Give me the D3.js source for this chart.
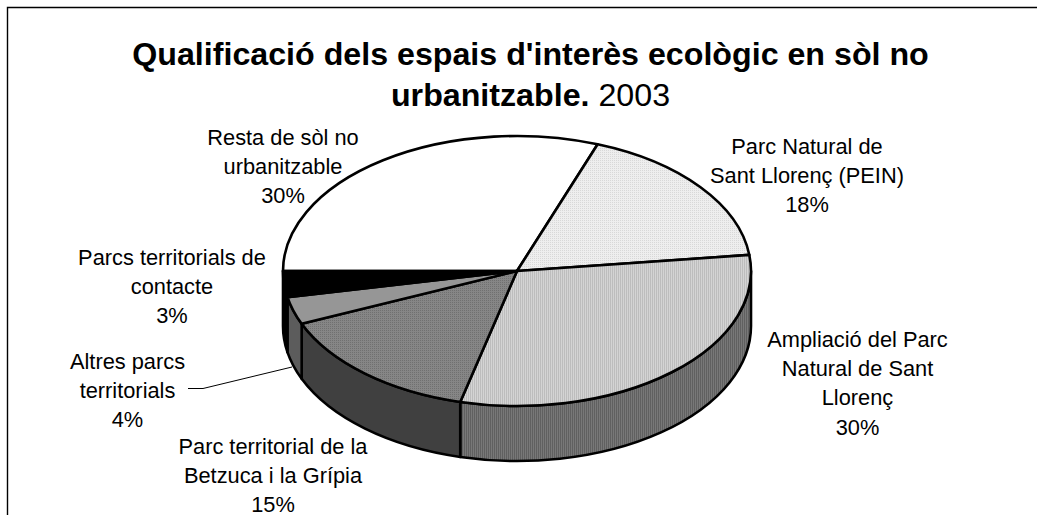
<!DOCTYPE html>
<html><head><meta charset="utf-8">
<script src="https://cdnjs.cloudflare.com/ajax/libs/d3/7.8.5/d3.min.js"></script>
<style>html,body{margin:0;padding:0;background:#fff}svg{display:block}text{font-family:"Liberation Sans",Arial,sans-serif;fill:#000}</style>
</head><body><svg id="c" width="1037" height="515"></svg>
<script>
const categories=["Resta de sòl no urbanitzable","Parc Natural de Sant Llorenç (PEIN)","Ampliació del Parc Natural de Sant Llorenç","Parc territorial de la Betzuca i la Grípia","Altres parcs territorials","Parcs territorials de contacte"];
const values=[30.6,17.5,30.8,14.7,3.3,3.1];
const percentLabels=["30%","18%","30%","15%","4%","3%"];
const labelLines=[["Resta de sòl no","urbanitzable"],["Parc Natural de","Sant Llorenç (PEIN)"],["Ampliació del Parc","Natural de Sant","Llorenç"],["Parc territorial de la","Betzuca i la Grípia"],["Altres parcs","territorials"],["Parcs territorials de","contacte"]];
const labelAnchors=[[283,144.5],[807,153.5],[857.5,347],[273,453.5],[127.5,369],[172,265]];
const topFills=["#fff","url(#pLight)","url(#pMid)","url(#pDark)","#969696","#000"];
const sideFills=["#fff","#666","url(#pSide)","#404040","#5c5c5c","#000"];

const svg=d3.select("#c");
const defs=svg.append("defs");
function pat(id,size,bg,dot,cells){const p=defs.append("pattern").attr("id",id).attr("width",size).attr("height",size).attr("patternUnits","userSpaceOnUse");
 p.append("rect").attr("width",size).attr("height",size).attr("fill",bg);
 cells.forEach(c=>p.append("rect").attr("x",c[0]).attr("y",c[1]).attr("width",c[2]).attr("height",c[3]).attr("fill",dot));}
pat("pLight",2,"#eeeeee","#d8d8d8",[[0,0,1,1]]);
pat("pMid",2,"#d4d4d4","#bdbdbd",[[0,0,1,2]]);
pat("pDark",2,"#868686","#707070",[[0,0,1,1]]);
pat("pSide",2,"#787878","#606060",[[0,0,1,2]]);

const cx=517,cy=271,rx=234,ry=135,depth=55;
const sx=d3.scaleLinear().domain([-1,1]).range([cx-rx,cx+rx]);
const sy=d3.scaleLinear().domain([-1,1]).range([cy-ry,cy+ry]);
const px=a=>sx(Math.sin(a)),py=a=>sy(-Math.cos(a));
const arcs=d3.pie().sort(null).startAngle(1.5*Math.PI).endAngle(3.5*Math.PI)(values);

// frame
svg.append("path").attr("d","M7.5 515V7.5H1037").attr("fill","none").attr("stroke","#000").attr("stroke-width",1.4);

// walls (front half only)
const front=[[Math.PI/2,1.5*Math.PI],[2.5*Math.PI,3.5*Math.PI]];
const walls=svg.append("g");
arcs.forEach((d,i)=>{
 front.forEach(([f0,f1])=>{
  const a0=Math.max(d.startAngle,f0),a1=Math.min(d.endAngle,f1);
  if(a1<=a0)return;
  const x0=px(a0),y0=py(a0),x1=px(a1),y1=py(a1);
  walls.append("path").attr("d",`M${x0} ${y0}A${rx} ${ry} 0 0 1 ${x1} ${y1}L${x1} ${y1+depth}A${rx} ${ry} 0 0 0 ${x0} ${y0+depth}Z`)
   .attr("fill",sideFills[i]).attr("stroke","#000").attr("stroke-width",2.6).attr("stroke-linejoin","round");
 });
});
// top
svg.append("g").selectAll("path").data(arcs).join("path")
 .attr("d",d=>{const large=d.endAngle-d.startAngle>Math.PI?1:0;
  return `M${cx} ${cy}L${px(d.startAngle)} ${py(d.startAngle)}A${rx} ${ry} 0 ${large} 1 ${px(d.endAngle)} ${py(d.endAngle)}Z`;})
 .attr("fill",(d,i)=>topFills[i]).attr("stroke","#000").attr("stroke-width",2.6).attr("stroke-linejoin","round");

// leader
svg.append("path").attr("d","M188 388.5L203 388.5L292 367").attr("fill","none").attr("stroke","#000").attr("stroke-width",1);

// title
const t=svg.append("g").attr("text-anchor","middle");
t.append("text").attr("x",530.5).attr("y",64.5).attr("font-size",32.2).attr("font-weight","bold").text("Qualificació dels espais d'interès ecològic en sòl no");
const t2=t.append("text").attr("x",530.5).attr("y",105.5).attr("font-size",32.2);
t2.append("tspan").attr("font-weight","bold").text("urbanitzable.");
t2.append("tspan").text(" 2003");

// labels
const lh=29.2;
const g=svg.append("g").attr("text-anchor","middle").attr("font-size",21.8);
labelLines.forEach((ls,i)=>{
 const all=ls.concat([percentLabels[i]]);
 all.forEach((s,j)=>g.append("text").attr("x",labelAnchors[i][0]).attr("y",labelAnchors[i][1]+j*lh).text(s));
});
</script></body></html>
